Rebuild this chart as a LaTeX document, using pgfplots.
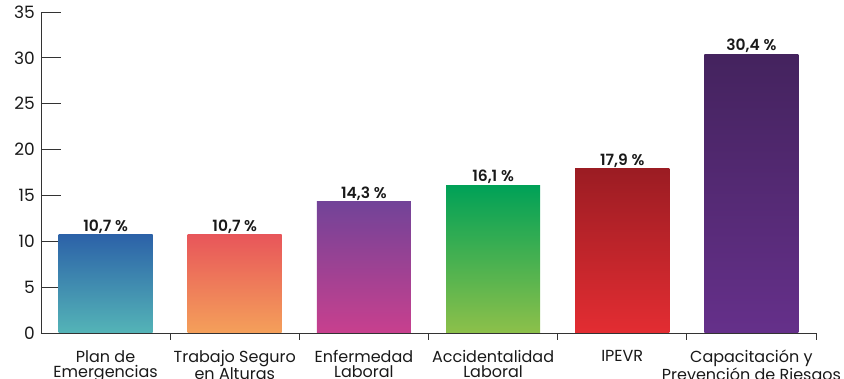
\documentclass[border=0pt]{standalone}
\usepackage{fontspec}
\setmainfont{Poppins}[BoldFont={* SemiBold}]
\usepackage{pgfplots}
\pgfplotsset{compat=1.18}

% bar gradients: top colour / bottom colour
\definecolor{aTop}{HTML}{2C62A8}\definecolor{aBot}{HTML}{54B4B7}
\definecolor{bTop}{HTML}{E8565A}\definecolor{bBot}{HTML}{F4A05A}
\definecolor{cTop}{HTML}{724398}\definecolor{cBot}{HTML}{C8408E}
\definecolor{dTop}{HTML}{00A157}\definecolor{dBot}{HTML}{8DC04A}
\definecolor{eTop}{HTML}{9B1C23}\definecolor{eBot}{HTML}{E32D32}
\definecolor{fTop}{HTML}{44235E}\definecolor{fBot}{HTML}{65308A}
\definecolor{axisgray}{HTML}{333333}

\begin{document}
\begin{tikzpicture}[x=1pt,y=1pt]
\begin{axis}[
  scale only axis, width=775pt, height=321pt,
  xmin=-0.5, xmax=5.5, ymin=0, ymax=35,
  axis lines*=left,
  axis line style={axisgray, line width=0.9pt},
  ytick={0,5,...,35},
  tick align=inside,
  major tick length=20pt,
  ytick style={axisgray, line width=0.8pt},
  xtick={0,1,2,3,4,5},
  major x tick style={draw=none},
  minor xtick={0.5,1.5,2.5,3.5,4.5,5.5},
  minor tick length=7pt,
  minor x tick style={draw=axisgray, line width=0.8pt},
  xticklabels={Plan de\\Emergencias, Trabajo Seguro\\en Alturas, Enfermedad\\Laboral, Accidentalidad\\Laboral, IPEVR, Capacitación y\\Prevención de Riesgos},
  xticklabel style={align=center, font=\fontsize{16}{15.5}\selectfont, text=black!90, anchor=north, inner sep=0pt, yshift=3pt},
  yticklabel style={font=\fontsize{17}{19}\selectfont, text=black!90, anchor=east, inner sep=0pt, xshift=-6pt},
  /pgf/number format/assume math mode=true,
  ybar, bar width=94pt, bar shift=0pt,
  nodes near coords={\pgfmathprintnumber[fixed, fixed zerofill, precision=1, use comma]{\pgfplotspointmeta}~\%},
  nodes near coords style={anchor=base, inner sep=0pt, yshift=3.5pt, font=\fontsize{15.5}{17}\selectfont\bfseries, text=black!90},
  clip=false,
]
\addplot[draw=none, top color=aTop, bottom color=aBot] coordinates {(0,10.7)};
\addplot[draw=none, top color=bTop, bottom color=bBot] coordinates {(1,10.7)};
\addplot[draw=none, top color=cTop, bottom color=cBot] coordinates {(2,14.3)};
\addplot[draw=none, top color=dTop, bottom color=dBot] coordinates {(3,16.1)};
\addplot[draw=none, top color=eTop, bottom color=eBot] coordinates {(4,17.9)};
\addplot[draw=none, top color=fTop, bottom color=fBot] coordinates {(5,30.4)};
\end{axis}
\pgfresetboundingbox
\path[use as bounding box] (-41,-46) rectangle (803,333);
\end{tikzpicture}
\end{document}
